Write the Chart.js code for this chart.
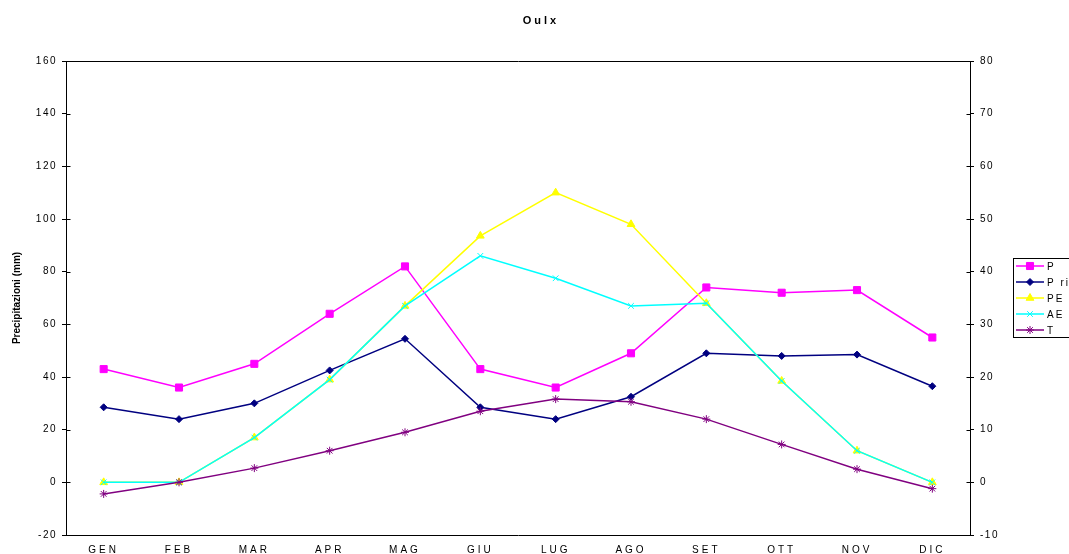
<!DOCTYPE html>
<html lang="it">
<head>
    <meta charset="UTF-8">
    <title>Oulx</title>
    <script src="https://cdn.jsdelivr.net/npm/chart.js"></script>
    <style>
        html, body { margin: 0; padding: 0; background: #fff; }
    </style>
</head>
<body>
    <canvas id="oulxChart" width="1069" height="554"></canvas>
    <script>
        const months = ["GEN", "FEB", "MAR", "APR", "MAG", "GIU", "LUG", "AGO", "SET", "OTT", "NOV", "DIC"];

        // precipitazioni e bilancio idrico (mm)
        const pTot = [43, 36, 45, 64, 82, 43, 36, 49, 74, 72, 73, 55];
        const pRil = [28.5, 24, 30, 42.5, 54.5, 28.5, 24, 32.5, 49, 48, 48.5, 36.5];
        const pe = [0, 0, 17, 39, 67, 93.6, 110, 98, 68, 38.5, 12, 0];
        const ae = [0, 0, 17, 39, 67, 86, 77.5, 67, 68, 38.5, 12, 0];

        // temperatura media (°C), asse destro
        const temp = [-2.2, 0, 2.7, 6, 9.5, 13.5, 15.8, 15.3, 12, 7.2, 2.5, -1.2];

        const leftTicks = { min: -20, max: 160, step: 20 };
        const rightTicks = { min: -10, max: 80, step: 10 };

        const FONT = "'Liberation Sans', Arial, sans-serif";

        // spaced-out tick labels like the old spreadsheet output
        const spacingPlugin = {
            id: 'labelSpacing',
            afterLayout(chart) {
                const spacing = { x: '3px', y: '1.5px', y1: '1.5px' };
                Object.keys(spacing).forEach(id => {
                    const scale = chart.scales[id];
                    if (!scale || scale._spaced) return;
                    const orig = scale.drawLabels.bind(scale);
                    scale.drawLabels = function (area) {
                        chart.ctx.save();
                        chart.ctx.letterSpacing = spacing[id];
                        orig(area);
                        chart.ctx.restore();
                    };
                    scale._spaced = true;
                });
            }
        };

        // frame top line, inner tick marks, title, axis title and boxed legend
        const decorPlugin = {
            id: 'decor',
            afterDraw(chart) {
                const ctx = chart.ctx;
                const area = chart.chartArea;
                ctx.save();

                ctx.strokeStyle = '#000';
                ctx.lineWidth = 1;
                ctx.beginPath();
                ctx.moveTo(Math.round(area.left) + 0.5, Math.round(area.top) + 0.5);
                ctx.lineTo(Math.round(area.right) + 0.5, Math.round(area.top) + 0.5);
                ctx.stroke();

                ['y', 'y1'].forEach(id => {
                    const s = chart.scales[id];
                    const x = Math.round(id === 'y' ? area.left : area.right) + 0.5;
                    const dir = id === 'y' ? 1 : -1;
                    s.ticks.forEach((t, i) => {
                        const py = Math.round(s.getPixelForTick(i)) + 0.5;
                        ctx.beginPath();
                        ctx.moveTo(x, py);
                        ctx.lineTo(x + dir * 4, py);
                        ctx.stroke();
                    });
                });

                ctx.fillStyle = '#000';
                ctx.font = 'bold 11px ' + FONT;
                ctx.letterSpacing = '3px';
                ctx.textAlign = 'center';
                ctx.textBaseline = 'middle';
                ctx.fillText('Oulx', 541, 21);

                ctx.letterSpacing = '0px';
                ctx.font = 'bold 10px ' + FONT;
                ctx.save();
                ctx.translate(17, (area.top + area.bottom) / 2);
                ctx.rotate(-Math.PI / 2);
                ctx.fillText('Precipitazioni (mm)', 0, 0);
                ctx.restore();

                // legend
                ctx.strokeStyle = '#000';
                ctx.lineWidth = 1;
                ctx.strokeRect(1013.5, 258.5, 80, 79);
                ctx.font = '10px ' + FONT;
                ctx.letterSpacing = '2px';
                ctx.textAlign = 'left';
                chart.data.datasets.forEach((ds, i) => {
                    const y = 266 + i * 16;
                    ctx.strokeStyle = ds.borderColor;
                    ctx.lineWidth = ds.borderWidth;
                    ctx.beginPath();
                    ctx.moveTo(1016, y);
                    ctx.lineTo(1044, y);
                    ctx.stroke();
                    ctx.fillStyle = ds.pointBackgroundColor;
                    ctx.strokeStyle = ds.pointBorderColor;
                    ctx.lineWidth = 1;
                    Chart.helpers.drawPoint(ctx, {
                        pointStyle: ds.pointStyle,
                        radius: ds.pointRadius,
                        rotation: 0,
                        borderWidth: 1
                    }, 1030, y);
                    ctx.fillStyle = '#000';
                    ctx.fillText(ds.label, 1047, y + 1);
                });

                ctx.restore();
            }
        };

        function series(label, data, color, style, radius, axis, order) {
            return {
                label: label,
                data: data,
                yAxisID: axis,
                order: order,
                borderColor: color,
                backgroundColor: color,
                pointBackgroundColor: color,
                pointBorderColor: color,
                borderWidth: 1.5,
                pointStyle: style,
                pointRadius: radius,
                pointBorderWidth: 1,
                tension: 0
            };
        }

        new Chart(document.getElementById('oulxChart'), {
            type: 'line',
            data: {
                labels: months,
                datasets: [
                    series('P', pTot, '#FF00FF', 'rect', 5, 'y', 5),
                    series('P ril', pRil, '#000080', 'rectRot', 3.5, 'y', 4),
                    series('PE', pe, '#FFFF00', 'triangle', 4.5, 'y', 3),
                    series('AE', ae, '#00FFFF', 'crossRot', 4, 'y', 2),
                    series('T', temp, '#800080', 'star', 4, 'y1', 1)
                ]
            },
            options: {
                responsive: false,
                animation: false,
                layout: { padding: { top: 61, right: 59, left: 0, bottom: 0 } },
                plugins: {
                    legend: { display: false },
                    title: { display: false },
                    tooltip: { enabled: false }
                },
                scales: {
                    x: {
                        offset: true,
                        grid: { display: false, drawTicks: false, tickLength: 0 },
                        border: { display: true, color: '#000', width: 1 },
                        ticks: { color: '#000', font: { family: FONT, size: 10 }, padding: 9, maxRotation: 0 },
                        afterFit(scale) { scale.height = 19; }
                    },
                    y: {
                        position: 'left',
                        min: leftTicks.min,
                        max: leftTicks.max,
                        grid: { drawOnChartArea: false, drawTicks: true, tickLength: 4, color: '#000' },
                        border: { display: true, color: '#000', width: 1 },
                        ticks: { stepSize: leftTicks.step, color: '#000', font: { family: FONT, size: 10 }, padding: 5 },
                        afterFit(scale) { scale.width = 66; }
                    },
                    y1: {
                        position: 'right',
                        min: rightTicks.min,
                        max: rightTicks.max,
                        grid: { drawOnChartArea: false, drawTicks: true, tickLength: 4, color: '#000' },
                        border: { display: true, color: '#000', width: 1 },
                        ticks: { stepSize: rightTicks.step, color: '#000', font: { family: FONT, size: 10 }, padding: 6 },
                        afterFit(scale) { scale.width = 40; }
                    }
                }
            },
            plugins: [spacingPlugin, decorPlugin]
        });
    </script>
</body>
</html>
